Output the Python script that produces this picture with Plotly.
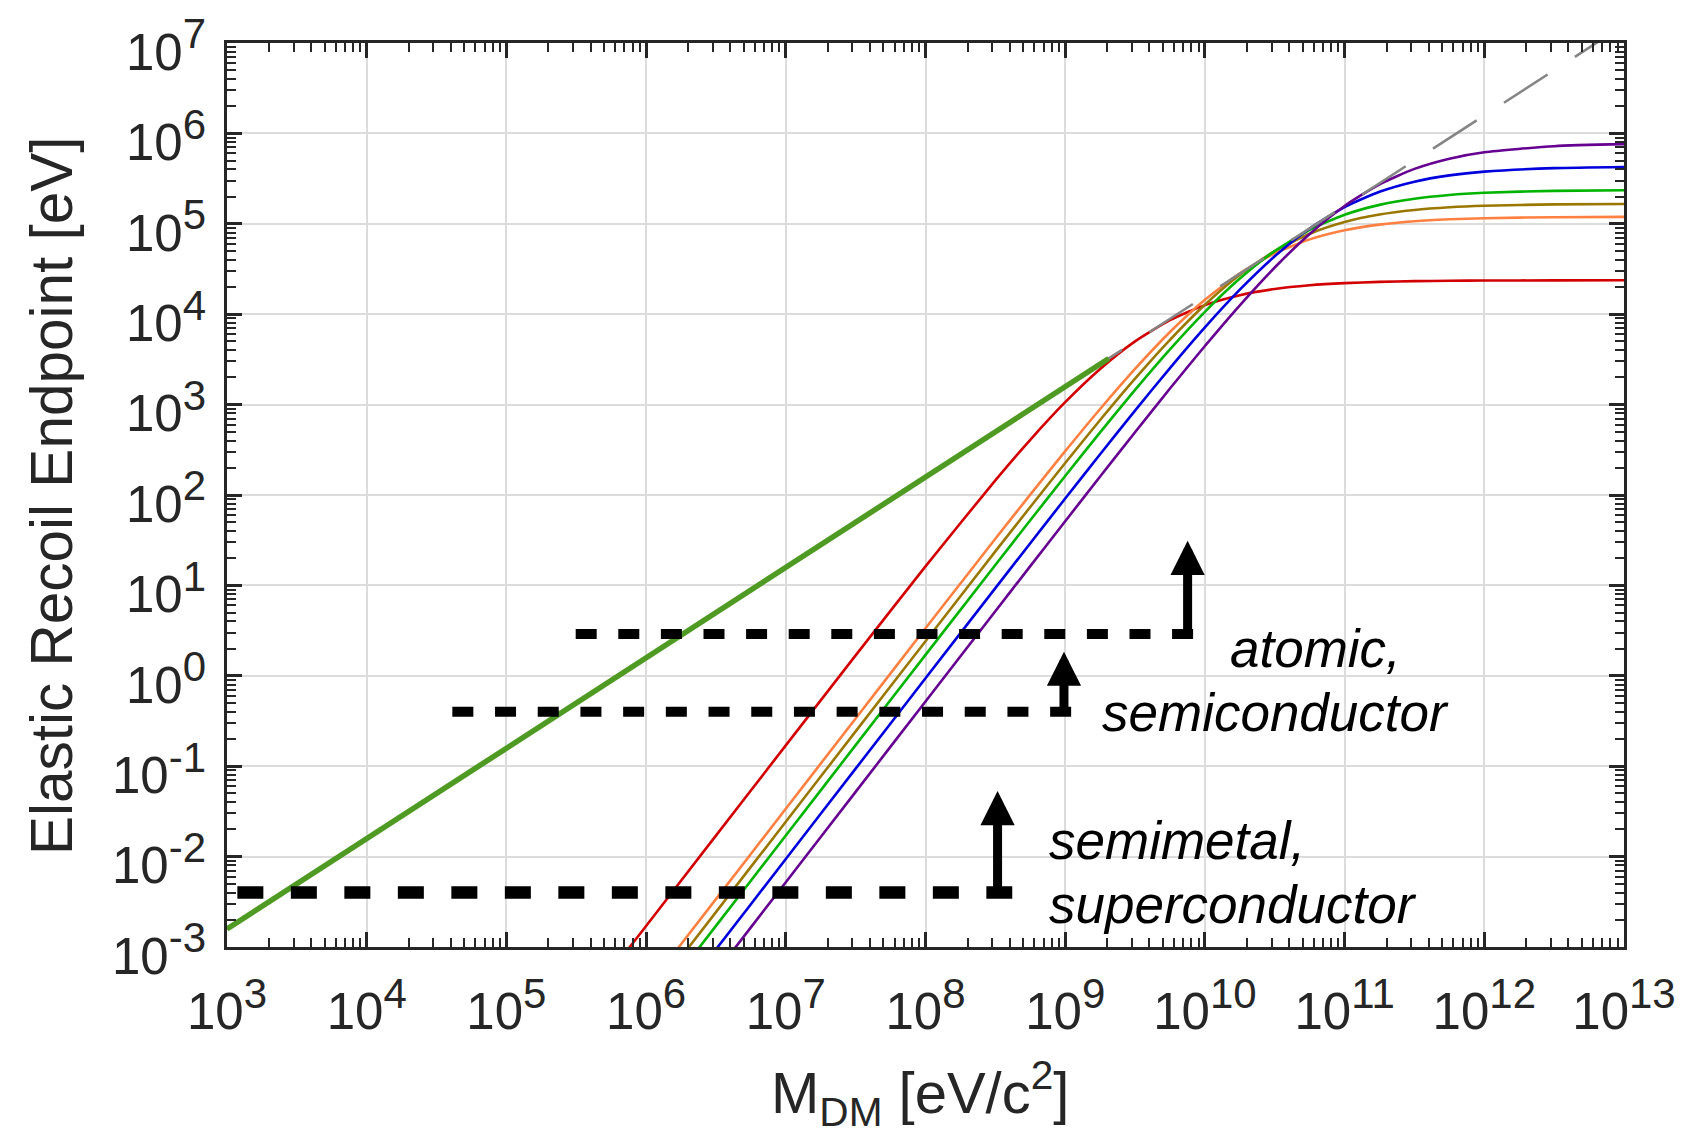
import math
import plotly.graph_objects as go

# ---------------- data ----------------
mass_ev = [3.162e5, 1e6, 3.162e6, 1e7, 3.162e7, 1e8, 3.162e8, 5.623e8, 1e9, 1.778e9,
           3.162e9, 5.623e9, 1e10, 1.778e10, 3.162e10, 5.623e10, 1e11, 1.778e11,
           3.162e11, 5.623e11, 1e12, 3.162e12, 1e13]

endpoint_he = [1.71e-4, 1.71e-3, 1.706e-2, 0.170, 1.682, 16.22, 145.3, 408.2, 1063, 2478,
               5004, 8590, 12600, 16230, 19000, 20890, 22070, 22780, 23200, 23430,
               23570, 23680, 23720]
endpoint_ne = [3.39e-5, 3.39e-4, 3.386e-3, 0.03383, 0.3375, 3.351, 32.76, 101.0, 305.3, 894.0,
               2482, 6346, 14430, 28280, 47090, 67220, 84830, 97900, 106700, 112100,
               115350, 118350, 119310]
endpoint_si = [2.43e-5, 2.433e-4, 2.433e-3, 0.02431, 0.2427, 2.415, 23.76, 73.75, 225.7, 674.8,
               1937, 5214, 12740, 27290, 49910, 77640, 104700, 126700, 142200, 152200,
               158300, 163970, 165830]
endpoint_ar = [1.71e-5, 1.711e-4, 1.711e-3, 0.01710, 0.1709, 1.702, 16.83, 52.52, 162.3, 492.9,
               1453, 4083, 10630, 24760, 49990, 85770, 125800, 161960, 189500, 208500,
               220300, 231500, 235250]
endpoint_ge = [9.41e-6, 9.41e-5, 9.41e-4, 9.41e-3, 0.0940, 0.9384, 9.326, 29.28, 91.41, 282.6,
               859.0, 2537, 7145, 18660, 43710, 88780, 153300, 226200, 292500, 343300,
               378000, 413000, 425100]
endpoint_xe = [5.21e-6, 5.21e-5, 5.21e-4, 5.21e-3, 0.05205, 0.5199, 5.181, 16.32, 51.23, 160.0,
               494.9, 1505, 4449, 12550, 32880, 77270, 157600, 273500, 405200, 525500,
               618500, 722000, 760300]

target_names = ["He", "Ne", "Si", "Ar", "Ge", "Xe"]
target_series = [endpoint_he, endpoint_ne, endpoint_si, endpoint_ar, endpoint_ge, endpoint_xe]

# kinetic-energy line (solid green part, then grey dashed continuation)
kin_mass = [1e3, 2.05e9]
kin_energy = [1.58e-3, 3.24e3]
free_mass = [1e3, 1e13]
free_energy = [1.58e-3, 1.58e7]

# detector thresholds (horizontal dashed bars) and arrows
thr_energy = [4.0e-3, 0.40, 2.9]
thr_start = [1186, 4.102e4, 3.133e5]
thr_end = [4.178e8, 1.132e9, 8.356e9]
arrow_mass = [3.28e8, 9.8e8, 7.52e9]
arrow_tip = [0.0532, 1.85, 31.2]

label_lines = ["atomic,", "semiconductor", "semimetal,", "superconductor"]

x_tick_vals = [1e3, 1e4, 1e5, 1e6, 1e7, 1e8, 1e9, 1e10, 1e11, 1e12, 1e13]
x_tick_exp = ["3", "4", "5", "6", "7", "8", "9", "10", "11", "12", "13"]
y_tick_vals = [1e-3, 1e-2, 1e-1, 1e0, 1e1, 1e2, 1e3, 1e4, 1e5, 1e6, 1e7]
y_tick_exp = ["-3", "-2", "-1", "0", "1", "2", "3", "4", "5", "6", "7"]

# ---------------- styling ----------------
FONT = "Liberation Sans, Helvetica Neue, Arial, sans-serif"
AX = "#262626"
target_colors = ["#d20000", "#ff8040", "#9a7800", "#00b400", "#0000dd", "#660090"]

PL, PR, PT, PB = 227, 1624, 43, 947
W, H = 1704, 1142


def sup_text(exp):
    return "10<sup><span style='font-size:42px'>" + exp + "</span></sup>"


fig = go.Figure()

for name, ys, col in zip(target_names, target_series, target_colors):
    fig.add_trace(go.Scatter(x=mass_ev, y=ys, mode="lines", name=name,
                             line=dict(color=col, width=2.6, shape="spline", smoothing=0.6),
                             showlegend=False, hoverinfo="skip"))

fig.add_trace(go.Scatter(x=free_mass, y=free_energy, mode="lines",
                         line=dict(color="#858585", width=2.6, dash="52px,32.5px"),
                         showlegend=False, hoverinfo="skip"))
fig.add_trace(go.Scatter(x=kin_mass, y=kin_energy, mode="lines",
                         line=dict(color="#4e9a22", width=5.5),
                         showlegend=False, hoverinfo="skip"))

thr_widths = [12.5, 10, 10]
thr_dash = ["26px,27.5px", "21px,21.7px", "21px,21.6px"]
for e, x0, x1, wdt, ds in zip(thr_energy, thr_start, thr_end, thr_widths, thr_dash):
    fig.add_trace(go.Scatter(x=[x0, x1], y=[e, e], mode="lines",
                             line=dict(color="black", width=wdt, dash=ds),
                             showlegend=False, hoverinfo="skip"))

annotations = []
for xm, tip, base in zip(arrow_mass, arrow_tip, thr_energy):
    annotations.append(dict(x=math.log10(xm), y=math.log10(tip), xref="x", yref="y",
                            ax=math.log10(xm), ay=math.log10(base), axref="x", ayref="y",
                            text="", showarrow=True, arrowhead=2, arrowsize=0.76,
                            arrowwidth=9, arrowcolor="black"))

label_pos = [(1228, 648), (1100, 712), (1047, 840), (1047, 904)]
for txt, (px, py) in zip(label_lines, label_pos):
    annotations.append(dict(x=(px - PL) / (PR - PL), y=(PB - py) / (PB - PT),
                            xref="paper", yref="paper", text=txt, showarrow=False,
                            xanchor="left", yanchor="middle",
                            font=dict(family=FONT, size=53, color="black", style="italic")))

annotations.append(dict(x=(51 - PL) / (PR - PL), y=(PB - 496) / (PB - PT), xref="paper", yref="paper",
                        text="Elastic Recoil Endpoint [eV]", textangle=-90, showarrow=False,
                        xanchor="center", yanchor="middle",
                        font=dict(family=FONT, size=58.5, color=AX)))
annotations.append(dict(x=(920 - PL) / (PR - PL), y=(PB - 1093) / (PB - PT), xref="paper", yref="paper",
                        text="M<sub>DM</sub> [eV/c<sup>2</sup>]", showarrow=False,
                        xanchor="center", yanchor="middle",
                        font=dict(family=FONT, size=58, color=AX)))

x_minor = [d * 10 ** k for k in range(3, 13) for d in range(2, 10)]
y_minor = [d * 10 ** k for k in range(-3, 7) for d in range(2, 10)]

axis_common = dict(showline=True, linecolor=AX, linewidth=2.6, mirror="ticks",
                   ticks="inside", ticklen=15, tickwidth=2.6, tickcolor=AX,
                   showgrid=True, gridcolor="#dcdcdc", gridwidth=2,
                   tickfont=dict(family=FONT, size=51, color=AX), zeroline=False)

fig.update_layout(
    width=W, height=H,
    margin=dict(l=PL, r=W - PR, t=PT, b=H - PB, autoexpand=False),
    paper_bgcolor="white", plot_bgcolor="white",
    showlegend=False,
    annotations=annotations,
    xaxis=dict(type="log", range=[3, 13], tickmode="array", tickvals=x_tick_vals,
               ticktext=[sup_text(e) for e in x_tick_exp], ticklabelstandoff=18,
               minor=dict(tickmode="array", tickvals=x_minor, ticks="inside", ticklen=9,
                          tickwidth=2, tickcolor=AX, showgrid=False),
               **axis_common),
    yaxis=dict(type="log", range=[-3, 7], tickmode="array", tickvals=y_tick_vals,
               ticktext=[sup_text(e) for e in y_tick_exp], ticklabelstandoff=8,
               ticklabelshift=9,
               minor=dict(tickmode="array", tickvals=y_minor, ticks="inside", ticklen=9,
                          tickwidth=2, tickcolor=AX, showgrid=False),
               **axis_common),
)

fig.write_html("out.html")
